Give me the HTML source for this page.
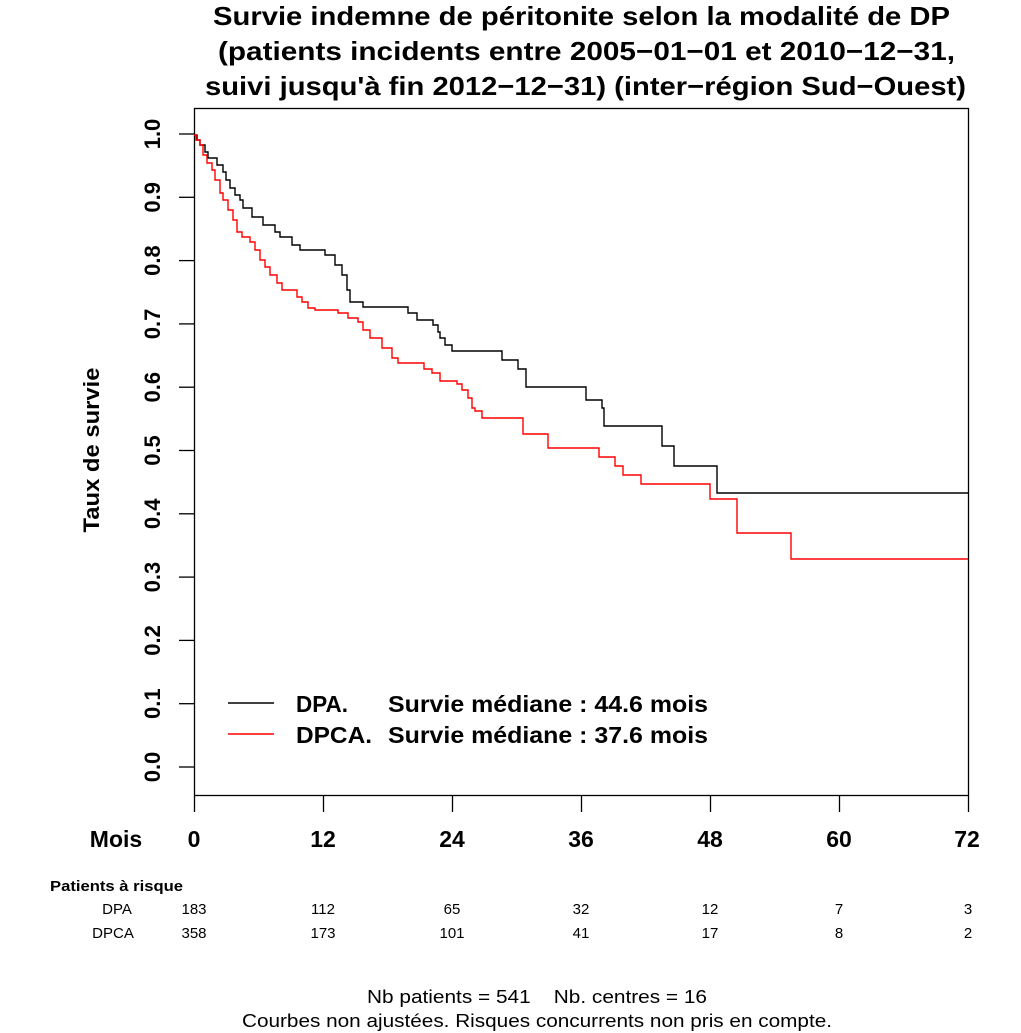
<!DOCTYPE html>
<html><head><meta charset="utf-8"><style>
body{margin:0;background:#fff}
svg{display:block;font-family:"Liberation Sans",sans-serif}
</style></head><body>
<svg width="1021" height="1033" viewBox="0 0 1021 1033" xmlns="http://www.w3.org/2000/svg">
<g font-weight="bold" font-size="26">
<text x="213" y="25" textLength="737" lengthAdjust="spacingAndGlyphs">Survie indemne de péritonite selon la modalité de DP</text>
<text x="218" y="60" textLength="737" lengthAdjust="spacingAndGlyphs">(patients incidents entre 2005−01−01 et 2010−12−31,</text>
<text x="205" y="95" textLength="761" lengthAdjust="spacingAndGlyphs">suivi jusqu'à fin 2012−12−31) (inter−région Sud−Ouest)</text>
</g>
<rect x="194.5" y="108.5" width="774" height="687" fill="none" stroke="#000" stroke-width="1.3"/>
<g stroke="#000" stroke-width="1.3">
<line x1="179" y1="134" x2="194" y2="134"/><line x1="179" y1="197.3" x2="194" y2="197.3"/><line x1="179" y1="260.6" x2="194" y2="260.6"/><line x1="179" y1="323.9" x2="194" y2="323.9"/><line x1="179" y1="387.2" x2="194" y2="387.2"/><line x1="179" y1="450.5" x2="194" y2="450.5"/><line x1="179" y1="513.8" x2="194" y2="513.8"/><line x1="179" y1="577.1" x2="194" y2="577.1"/><line x1="179" y1="640.4" x2="194" y2="640.4"/><line x1="179" y1="703.7" x2="194" y2="703.7"/><line x1="179" y1="767" x2="194" y2="767"/>
<line x1="194.5" y1="796" x2="194.5" y2="812"/><line x1="323.5" y1="796" x2="323.5" y2="812"/><line x1="452.5" y1="796" x2="452.5" y2="812"/><line x1="581.5" y1="796" x2="581.5" y2="812"/><line x1="710.5" y1="796" x2="710.5" y2="812"/><line x1="839.5" y1="796" x2="839.5" y2="812"/><line x1="968.5" y1="796" x2="968.5" y2="812"/>
</g>
<g font-weight="bold" font-size="22" text-anchor="middle">
<text transform="translate(160,134) rotate(-90)">1.0</text>
<text transform="translate(160,197.3) rotate(-90)">0.9</text>
<text transform="translate(160,260.6) rotate(-90)">0.8</text>
<text transform="translate(160,323.9) rotate(-90)">0.7</text>
<text transform="translate(160,387.2) rotate(-90)">0.6</text>
<text transform="translate(160,450.5) rotate(-90)">0.5</text>
<text transform="translate(160,513.8) rotate(-90)">0.4</text>
<text transform="translate(160,577.1) rotate(-90)">0.3</text>
<text transform="translate(160,640.4) rotate(-90)">0.2</text>
<text transform="translate(160,703.7) rotate(-90)">0.1</text>
<text transform="translate(160,767) rotate(-90)">0.0</text>
<text transform="translate(99,450) rotate(-90)" textLength="165" lengthAdjust="spacingAndGlyphs">Taux de survie</text>
</g>
<g font-weight="bold" font-size="23" text-anchor="middle">
<text x="116" y="847">Mois</text>
<text x="194" y="847">0</text><text x="323" y="847">12</text><text x="452" y="847">24</text><text x="581" y="847">36</text><text x="710" y="847">48</text><text x="839" y="847">60</text><text x="967" y="847">72</text>
</g>
<path fill="none" stroke="#000" stroke-width="1.4" d="M194,135 H197 V140 H200 V145 H205 V152 H208 V158 H217 V165 H223 V172 H226 V180 H230 V188 H235 V195 H240 V200 H243 V208 H252 V217 H263 V225 H275 V232 H280 V237 H292 V245 H300 V250 H325 V255 H335 V265 H342 V275 H347 V290 H350 V302 H363 V307 H408 V313 H417 V320 H433 V325 H438 V332 H440 V338 H445 V345 H452 V351 H502 V360 H518 V369 H526 V387 H586 V400 H602 V408 H604 V426 H662 V446 H674 V466 H717 V493 H968"/>
<path fill="none" stroke="#f00" stroke-width="1.4" d="M194,135 H196 V140 H200 V145 H203 V155 H207 V163 H212 V170 H215 V180 H220 V193 H223 V200 H228 V210 H233 V220 H237 V232 H242 V237 H250 V242 H255 V250 H260 V260 H265 V267 H270 V275 H277 V283 H282 V290 H287 V290 H297 V297 H302 V302 H308 V308 H315 V310 H338 V313 H348 V318 H358 V322 H363 V330 H370 V338 H382 V348 H392 V358 H398 V363 H424 V369 H432 V373 H440 V381 H457 V384 H462 V390 H468 V398 H472 V408 H475 V411 H482 V418 H523 V434 H548 V448 H599 V457 H615 V466 H623 V475 H641 V484 H710 V499 H737 V533 H791 V559 H968"/>
<line x1="228" y1="703" x2="274" y2="703" stroke="#000" stroke-width="1.4"/>
<line x1="228" y1="734" x2="274" y2="734" stroke="#f00" stroke-width="1.4"/>
<g font-weight="bold" font-size="23">
<text x="296" y="712" textLength="52" lengthAdjust="spacingAndGlyphs">DPA.</text><text x="388" y="712" textLength="320" lengthAdjust="spacingAndGlyphs">Survie médiane : 44.6 mois</text>
<text x="296" y="743" textLength="76" lengthAdjust="spacingAndGlyphs">DPCA.</text><text x="388" y="743" textLength="320" lengthAdjust="spacingAndGlyphs">Survie médiane : 37.6 mois</text>
</g>
<text x="50" y="891" font-weight="bold" font-size="15" textLength="133" lengthAdjust="spacingAndGlyphs">Patients à risque</text>
<g font-size="15" text-anchor="middle">
<text x="117" y="914">DPA</text><text x="113" y="938">DPCA</text>
<text x="194" y="914">183</text><text x="323" y="914">112</text><text x="452" y="914">65</text><text x="581" y="914">32</text><text x="710" y="914">12</text><text x="839" y="914">7</text><text x="968" y="914">3</text>
<text x="194" y="938">358</text><text x="323" y="938">173</text><text x="452" y="938">101</text><text x="581" y="938">41</text><text x="710" y="938">17</text><text x="839" y="938">8</text><text x="968" y="938">2</text>
</g>
<g font-size="18">
<text x="367" y="1003" textLength="340" lengthAdjust="spacingAndGlyphs">Nb patients = 541&#160;&#160;&#160;&#160;Nb. centres = 16</text>
<text x="242" y="1027" textLength="590" lengthAdjust="spacingAndGlyphs">Courbes non ajustées. Risques concurrents non pris en compte.</text>
</g>
</svg>
</body></html>
